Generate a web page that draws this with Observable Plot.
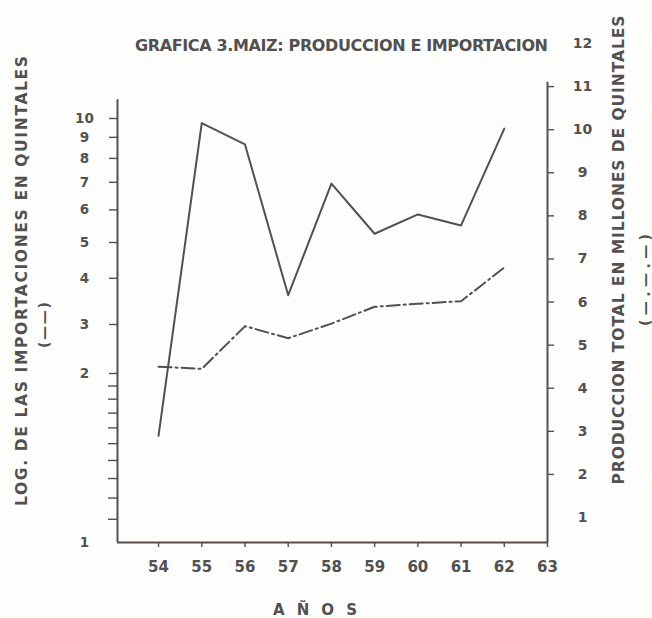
<!DOCTYPE html>
<html><head><meta charset="utf-8">
<script src="https://cdn.jsdelivr.net/npm/d3@7"></script>
<script src="https://cdn.jsdelivr.net/npm/@observablehq/plot@0.6"></script>
<style>
html,body{margin:0;padding:0;background:#fdfdfb;}
#wrap{position:relative;width:652px;height:618px;overflow:hidden;}
#wrap svg{position:absolute;left:0;top:0;}
</style></head><body><div id="wrap"></div>
<script>
// ---- data ----
const years = [54, 55, 56, 57, 58, 59, 60, 61, 62];
const importaciones = [1.55, 9.75, 8.65, 3.6, 6.95, 5.25, 5.85, 5.5, 9.45]; // log scale, quintales (solid)
const produccion = [4.5, 4.45, 5.44, 5.16, 5.5, 5.89, 5.96, 6.02, 6.8];    // millones de quintales (dash-dot)
const xTicks = [54, 55, 56, 57, 58, 59, 60, 61, 62, 63];
const leftTicks = [1, 2, 3, 4, 5, 6, 7, 8, 9, 10];
const leftMinorTicks = [1.1, 1.2, 1.3, 1.4, 1.5, 1.6, 1.7, 1.8, 1.9];
const rightTickMarks = [2, 3, 4, 5, 6, 7, 8, 9, 10, 11];
const rightTickLabels = [1, 2, 3, 4, 5, 6, 7, 8, 9, 10, 11, 12];

// ---- scale configuration (hand-drawn, piecewise-log left axis) ----
const xDomain = [53.05, 63];
const yLeftKnots = [1, 2, 3, 5, 10];
const yLeftKnotRange = [542, 373, 324, 242, 118];
const yLeftTop = 11.1;
const yRightDomain = [0.42, 12];
const yRightTop = 11.1;

const W = 652, H = 618, mL = 117, mR = 105, mT = 43, mB = 76;
const ink = "#525050";
const font = "'DejaVu Sans', 'Liberation Sans', Arial, sans-serif";
const baseStyle = {background: "transparent", color: ink, fontFamily: font, fontWeight: "bold", overflow: "visible"};

const imp = years.map((year, i) => ({year, v: importaciones[i]}));
const prod = years.map((year, i) => ({year, v: produccion[i]}));

const leftPlot = Plot.plot({
  width: W, height: H, marginLeft: mL, marginRight: mR, marginTop: mT, marginBottom: mB,
  style: {...baseStyle, fontSize: "14px"},
  x: {domain: xDomain, label: null},
  y: {type: "log", domain: yLeftKnots, range: yLeftKnotRange, label: null},
  marks: [
    Plot.ruleX([xDomain[0]], {y1: leftTicks[0], y2: yLeftTop, stroke: ink, strokeWidth: 2}),
    Plot.ruleY([leftTicks[0]], {x1: xDomain[0], x2: xDomain[1], stroke: "#5a4a48", strokeWidth: 2}),
    Plot.axisY(leftTicks.slice(1), {anchor: "left", tickSize: 8, tickFormat: () => "", label: null, strokeWidth: 1.4}),
    Plot.axisY(leftMinorTicks, {anchor: "left", tickSize: 9, tickFormat: () => "", label: null, strokeWidth: 1.4}),
    Plot.axisY(leftTicks, {anchor: "left", tickSize: 0, tickPadding: 33, textAnchor: "middle", label: null, fontSize: 13.5}),
    Plot.axisX(xTicks, {anchor: "bottom", tickSize: 5, tickPadding: 14, label: null, fontSize: 15, strokeWidth: 1.4}),
    Plot.line(imp, {x: "year", y: "v", stroke: ink, strokeWidth: 2})
  ]
});

const rightPlot = Plot.plot({
  width: W, height: H, marginLeft: mL, marginRight: mR, marginTop: mT, marginBottom: mB,
  style: {...baseStyle, fontSize: "14px"},
  x: {domain: xDomain, axis: null, label: null},
  y: {domain: yRightDomain, label: null},
  marks: [
    Plot.ruleX([xDomain[1]], {y1: yRightDomain[0], y2: yRightTop, stroke: ink, strokeWidth: 2}),
    Plot.axisY(rightTickMarks, {anchor: "right", tickSize: 6, tickFormat: () => "", label: null, strokeWidth: 1.4}),
    Plot.axisY(rightTickLabels, {anchor: "right", tickSize: 0, tickPadding: 35, textAnchor: "middle", label: null, fontSize: 14}),
    Plot.line(prod, {x: "year", y: "v", stroke: ink, strokeWidth: 2, strokeDasharray: "13,4,2,4"})
  ]
});

const wrap = document.getElementById("wrap");
wrap.appendChild(leftPlot);
wrap.appendChild(rightPlot);

// ---- titles and axis captions ----
const ns = "http://www.w3.org/2000/svg";
const overlay = document.createElementNS(ns, "svg");
overlay.setAttribute("width", W);
overlay.setAttribute("height", H);
overlay.style.fontFamily = font;
overlay.style.fontWeight = "bold";
function addText(str, x, y, size, length, rotate, anchor = "start") {
  const t = document.createElementNS(ns, "text");
  t.textContent = str;
  t.setAttribute("x", x);
  t.setAttribute("y", y);
  t.setAttribute("font-size", size);
  t.setAttribute("fill", ink);
  t.setAttribute("text-anchor", anchor);
  t.setAttribute("dominant-baseline", "central");
  if (length) { t.setAttribute("textLength", length); t.setAttribute("lengthAdjust", "spacing"); }
  if (rotate) t.setAttribute("transform", `rotate(${rotate} ${x} ${y})`);
  overlay.appendChild(t);
}
addText("GRAFICA 3.MAIZ: PRODUCCION E IMPORTACION", 135, 45, 16, 413, 0);
addText("LOG. DE LAS IMPORTACIONES  EN QUINTALES", 22, 281, 15.5, 450, -90, "middle");
addText("(——)", 44, 325, 14, 46, -90, "middle");
addText("PRODUCCION TOTAL EN MILLONES DE QUINTALES", 619, 250, 15.5, 469, -90, "middle");
addText("(—.—.—)", 645, 280, 14, 92, -90, "middle");
addText("AÑOS", 273, 610, 15, 84, 0);
wrap.appendChild(overlay);
</script>
</body></html>
